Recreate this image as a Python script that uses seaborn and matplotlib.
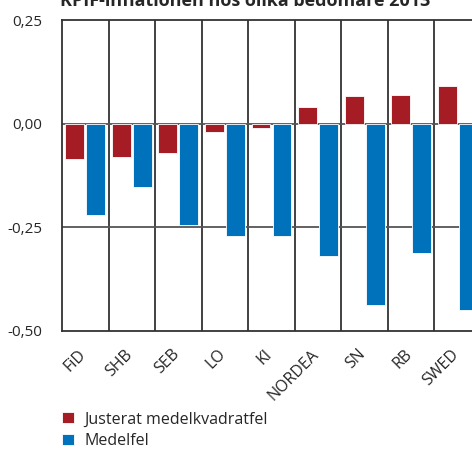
import pandas as pd
import matplotlib.pyplot as plt
import matplotlib.transforms as mtransforms
import seaborn as sns

# Values
bedomare = ['FiD', 'SHB', 'SEB', 'LO', 'KI', 'NORDEA', 'SN', 'RB', 'SWED']
justerat = [-0.085, -0.081, -0.070, -0.019, -0.010, 0.041, 0.066, 0.069, 0.092]
medelfel = [-0.220, -0.153, -0.245, -0.270, -0.270, -0.320, -0.437, -0.312, -0.449]
serier = ['Justerat medelkvadratfel', 'Medelfel']
yticks = [0.25, 0.0, -0.25, -0.5]
ytick_labels = ['0,25', '0,00', '-0,25', '-0,50']

df = pd.DataFrame({
    'bedomare': bedomare * 2,
    'serie': [serier[0]] * len(bedomare) + [serier[1]] * len(bedomare),
    'varde': justerat + medelfel,
})

sns.set_style('white')
plt.rcParams['font.family'] = ['Open Sans', 'DejaVu Sans']

fig = plt.figure(figsize=(4.72, 4.51), dpi=100)
ax = fig.add_axes([62 / 472, 1 - 331 / 451, 419 / 472, 311 / 451])

sns.barplot(data=df, x='bedomare', y='varde', hue='serie',
            palette=['#A61C24', '#0072BB'], saturation=1, width=0.9, gap=0.1,
            edgecolor='white', linewidth=0.6, ax=ax, zorder=3)

ax.set_ylim(-0.5, 0.25)
ax.set_xlim(-0.5, len(bedomare) - 0.5)
ax.set_yticks(yticks)
ax.set_yticklabels(ytick_labels, fontsize=11)
ax.set_xticks(range(len(bedomare)))
ax.set_xticklabels(bedomare, rotation=45, ha='right', rotation_mode='anchor', fontsize=11.5)
ax.tick_params(axis='both', length=0)
ax.tick_params(axis='x', pad=11)
ax.tick_params(axis='y', pad=14)
ax.set_xlabel('')
ax.set_ylabel('')

# nudge rotated labels a bit to the left, like the reference
shift = mtransforms.ScaledTranslation(-7 / 100, 0, fig.dpi_scale_trans)
for lbl in ax.get_xticklabels():
    lbl.set_transform(lbl.get_transform() + shift)

# vertical separators between categories and horizontal grid
for i in range(1, len(bedomare)):
    ax.axvline(i - 0.5, color='#333333', lw=1.3, zorder=1)
for y in [0.0, -0.25]:
    ax.axhline(y, color='#555555', lw=1.3, zorder=2)

for side in ['left', 'top', 'bottom']:
    ax.spines[side].set_color('#333333')
    ax.spines[side].set_linewidth(1.3)
ax.spines['right'].set_visible(False)

fig.text(60 / 472, 1 - 6 / 451, 'KPIF-inflationen hos olika bedömare 2013',
         fontsize=13, fontweight='bold', va='baseline', ha='left')

handles, labels = ax.get_legend_handles_labels()
ax.legend(handles, labels, loc='upper left', bbox_to_anchor=(48 / 472, 1 - 397 / 451),
          bbox_transform=fig.transFigure, frameon=False, fontsize=11.5,
          handlelength=0.7, handleheight=0.7, handletextpad=0.7, labelspacing=0.35)

fig.savefig('out.png', dpi=100)
